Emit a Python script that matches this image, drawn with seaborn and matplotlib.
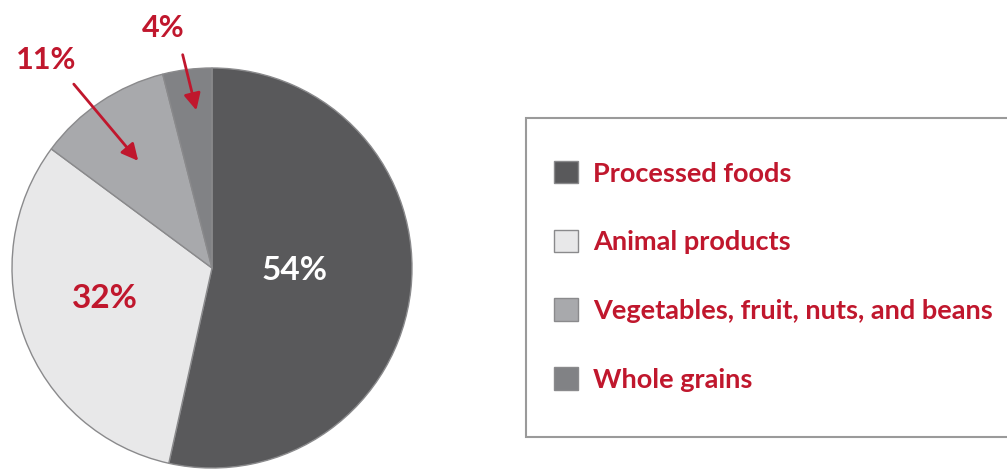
import matplotlib
matplotlib.use("Agg")
import matplotlib.pyplot as plt
import seaborn as sns
from matplotlib.patches import Rectangle

sns.set_style("white")
plt.rcParams['font.family'] = ['Lato', 'DejaVu Sans']
plt.rcParams['font.weight'] = 'bold'

# data
categories = ["Processed foods", "Animal products",
              "Vegetables, fruit, nuts, and beans", "Whole grains"]
shares = [54, 32, 11, 4]
labels = ["54%", "32%", "11%", "4%"]
colors = ["#59595b", "#e8e8e9", "#a8a9ac", "#818285"]

RED = "#c0172d"

fig = plt.figure(figsize=(10.07, 4.70), dpi=100)
ax = fig.add_axes([12 / 1007, 2 / 470, 400 / 1007, 400 / 470])

wedges, _ = ax.pie(shares, colors=colors, startangle=90, counterclock=False,
                   wedgeprops=dict(edgecolor="#8a8a8c", linewidth=1.0))
ax.set_xlim(-1, 1)
ax.set_ylim(-1, 1)
ax.set_aspect("equal")

# inside labels
ax.text(0.415, -0.01, labels[0], color="white", fontsize=24,
        ha="center", va="center", fontweight="bold")
ax.text(-0.535, -0.15, labels[1], color=RED, fontsize=24,
        ha="center", va="center", fontweight="bold")

# outside labels with arrows
ax.text(-0.83, 1.04, labels[2], color=RED, fontsize=22,
        ha="center", va="center", fontweight="bold", clip_on=False)
ax.annotate("", xy=(-0.36, 0.525), xytext=(-0.70, 0.93),
            arrowprops=dict(arrowstyle="-|>", color=RED, lw=2,
                            mutation_scale=25), annotation_clip=False)
ax.text(-0.245, 1.20, labels[3], color=RED, fontsize=22,
        ha="center", va="center", fontweight="bold", clip_on=False)
ax.annotate("", xy=(-0.075, 0.775), xytext=(-0.15, 1.08),
            arrowprops=dict(arrowstyle="-|>", color=RED, lw=2,
                            mutation_scale=25), annotation_clip=False)

# legend frame (runs off the right edge)
fig.patches.append(Rectangle((526 / 1007, 1 - 437 / 470), 0.6, 319 / 470,
                             transform=fig.transFigure, facecolor="white",
                             edgecolor="#9a9a9a", linewidth=1.5, zorder=0))

leg = fig.legend(wedges, categories, loc="upper left",
                 bbox_to_anchor=(554 / 1007, 1 - 161 / 470),
                 frameon=False, fontsize=19.5, labelcolor=RED,
                 handlelength=0.9, handleheight=0.9, handletextpad=0.55,
                 labelspacing=1.63, borderpad=0, borderaxespad=0)

fig.savefig("out.png", dpi=100)
